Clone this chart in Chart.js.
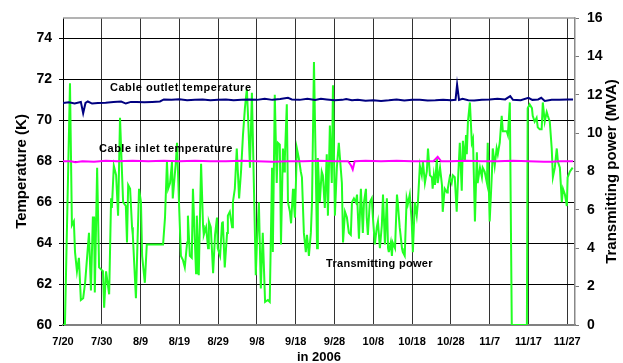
<!DOCTYPE html>
<html>
<head>
<meta charset="utf-8">
<script src="https://cdn.jsdelivr.net/npm/chart.js@4"></script>
<style>
html, body { margin: 0; padding: 0; background: #fff; }
#wrap { width: 623px; height: 363px; }
</style>
</head>
<body>
<div id="wrap"><canvas id="cableChart"></canvas></div>
<script>
// Days counted from 7/20/2006
const dateTicks = ['7/20', '7/30', '8/9', '8/19', '8/29', '9/8', '9/18', '9/28', '10/8', '10/18', '10/28', '11/7', '11/17', '11/27'];

// Cable outlet temperature (K)
const outletDay = [0, 1.5, 3, 4.6, 5.2, 5.8, 6.4, 7.5, 9, 11, 13, 15, 16.2, 17.5, 19, 21, 23, 25, 26, 28,
    30, 32, 34, 36, 38, 40, 42, 44, 46, 48, 50, 52, 54, 56, 58, 59, 61, 63, 65, 66.5,
    68, 70, 72, 73, 74.5, 76, 78, 80, 82, 84, 86, 88, 90, 92, 94, 96, 98, 100, 101.2, 101.6,
    102.1, 103, 104.5, 106, 108, 110, 112, 114, 115.3, 116, 118, 120, 121, 122.5, 123.3, 124.2, 126, 128, 130, 131.5];
const outletK = [70.85, 70.88, 70.82, 70.9, 70.35, 70.85, 70.92, 70.82, 70.85, 70.86, 70.9, 70.92, 70.82, 70.9, 70.9, 70.88, 70.9, 70.92, 71.02, 71.0,
    71.03, 70.98, 71.0, 71.02, 70.98, 71.0, 71.02, 70.98, 71.0, 71.02, 71.0, 71.05, 71.0, 71.04, 71.1, 71.02, 71.0, 71.05, 71.0, 71.05,
    71.02, 70.98, 71.0, 71.04, 70.98, 71.0, 70.96, 70.98, 70.95, 70.98, 71.02, 70.97, 71.0, 71.0, 70.97, 70.98, 71.0, 70.98, 71.0, 71.75,
    71.0, 71.05, 70.98, 70.97, 71.0, 71.02, 71.05, 71.02, 71.18, 71.0, 70.98, 71.1, 71.0, 71.02, 71.1, 70.95, 71.0, 71.0, 71.02, 71.02];

// Cable inlet temperature (K)
const inletDay = [0, 2, 3.2, 5, 8, 11, 14, 18, 22, 26, 30, 34, 38, 42, 46, 50, 54, 58, 62, 66,
    70, 73.5, 74.3, 74.7, 75.2, 78, 82, 86, 90, 95.5, 96.6, 97.5, 100, 104, 108, 112, 116, 120, 124, 126, 128, 131.5];
const inletK = [68.0, 68.0, 67.95, 68.0, 67.98, 68.02, 68.0, 68.02, 68.0, 68.02, 68.0, 68.02, 68.0, 68.0, 68.02, 68.0, 67.98, 68.0, 68.0, 68.02,
    68.0, 68.0, 67.78, 67.6, 68.0, 68.02, 68.0, 68.02, 68.0, 68.0, 68.22, 68.0, 68.0, 68.02, 68.0, 68.0, 68.02, 68.0, 67.98, 67.98, 68.0, 68.0];

// Transmitting power (MVA)
const powerDay = [0, 0.5, 1.8, 2.3, 2.8, 3.1, 3.6, 4.1, 4.6, 5.2,
    5.7, 6.7, 7.2, 7.7, 8.0, 8.2, 8.8, 9.3, 9.8, 10.3,
    10.6, 11.1, 11.3, 11.9, 12.4, 12.6, 13.1, 13.7, 14.2, 14.7,
    15.2, 15.5, 16.2, 16.5, 16.8, 17.3, 17.8, 18.0, 18.8, 19.6,
    20.1, 20.4, 21.1, 21.6, 25.8, 26.3, 26.8, 27.1, 27.6, 28.1,
    28.3, 29.1, 29.4, 29.9, 30.4, 30.9, 31.4, 32.0, 32.2, 32.7,
    33.2, 33.5, 34.3, 34.5, 35.0, 35.6, 36.1, 36.3, 36.9, 37.4,
    37.6, 38.1, 38.7, 39.2, 39.7, 39.9, 40.5, 41.0, 41.2, 41.7,
    42.3, 42.5, 43.0, 43.6, 43.8, 44.3, 44.8, 45.4, 45.9, 46.4,
    46.9, 47.4, 47.7, 48.2, 48.7, 49.2, 49.7, 50.0, 50.5, 51.0,
    51.5, 52.1, 52.8, 53.3, 53.9, 54.1, 54.6, 55.1, 55.4, 55.9,
    56.2, 56.7, 57.0, 57.2, 57.7, 58.0, 58.5, 58.8, 59.3, 59.5,
    59.8, 60.3, 60.8, 61.3, 61.6, 62.1, 62.6, 62.9, 63.4, 63.9,
    64.2, 64.7, 65.2, 65.5, 65.7, 66.2, 66.7, 67.0, 67.5, 68.0,
    68.3, 68.8, 69.3, 69.6, 70.1, 70.6, 71.1, 71.9, 72.2, 72.7,
    73.2, 73.7, 74.2, 74.5, 75.0, 75.5, 75.8, 76.3, 76.8, 77.3,
    77.6, 78.1, 78.3, 78.6, 79.1, 79.6, 79.9, 80.4, 80.9, 81.2,
    81.7, 82.2, 82.5, 83.0, 83.5, 83.8, 84.0, 84.5, 84.8, 85.0,
    85.6, 86.1, 86.3, 86.8, 87.4, 87.6, 88.1, 88.6, 88.9, 89.4,
    89.9, 90.2, 90.7, 91.2, 91.5, 92.0, 92.5, 92.8, 93.3, 93.8,
    94.1, 94.6, 95.1, 95.3, 95.6, 95.9, 96.4, 96.6, 97.2, 97.7,
    97.9, 98.4, 99.0, 99.2, 99.7, 100.2, 100.5, 101.0, 101.5, 101.8,
    102.3, 102.8, 103.1, 103.6, 103.9, 104.1, 104.4, 104.9, 105.4, 105.7,
    106.2, 106.7, 106.9, 107.5, 108.0, 108.2, 108.7, 109.3, 109.5, 110.0,
    110.6, 110.8, 111.3, 111.8, 112.1, 112.6, 113.1, 113.4, 113.9, 114.4,
    114.7, 115.2, 115.7, 119.6, 119.8, 120.3, 120.9, 121.1, 121.6, 122.1,
    122.4, 122.9, 123.4, 123.7, 124.2, 124.7, 125.0, 125.5, 126.0, 126.3,
    126.8, 127.3, 127.6, 128.1, 128.6, 128.9, 129.4, 129.9, 130.1, 130.7,
    131.4];
const powerMVA = [0, 0, 12.6, 5.2, 5.4, 3.8, 2.8, 3.5, 1.3, 1.4,
    2.2, 4.8, 1.8, 5.6, 5.6, 1.7, 8.2, 3.0, 2.9, 2.8,
    0.9, 2.8, 2.8, 1.6, 6.6, 6.1, 8.3, 7.8, 5.7, 10.8,
    8.0, 6.4, 6.2, 4.3, 7.3, 7.1, 5.1, 4.7, 1.4, 7.1,
    6.4, 3.6, 2.2, 4.2, 4.2, 5.6, 8.5, 7.1, 7.4, 8.5,
    6.6, 8.5, 9.5, 6.4, 3.6, 3.4, 3.0, 4.3, 5.7, 3.6,
    3.5, 7.1, 2.7, 5.7, 2.6, 8.4, 5.2, 4.7, 5.1, 4.0,
    5.4, 5.1, 2.7, 4.7, 5.6, 4.0, 3.6, 5.3, 5.4, 3.0,
    4.8, 5.7, 5.9, 5.1, 6.4, 7.1, 9.2, 6.6, 8.0, 9.9,
    11.3, 12.3, 10.9, 8.2, 12.1, 7.4, 2.6, 4.3, 6.4, 1.9,
    4.8, 1.2, 1.3, 1.2, 8.2, 3.8, 12.0, 7.4, 9.5, 9.4,
    4.2, 9.2, 8.0, 8.7, 11.5, 6.4, 5.9, 5.3, 7.1, 6.4,
    5.6, 9.2, 8.7, 8.0, 7.7, 4.8, 3.8, 4.7, 3.6, 4.8,
    6.4, 13.7, 7.8, 4.0, 8.7, 6.4, 8.0, 7.8, 6.1, 8.9,
    5.7, 10.4, 7.4, 12.5, 5.7, 8.2, 9.5, 7.4, 4.3, 5.9,
    5.6, 4.8, 4.7, 6.4, 6.6, 6.4, 6.8, 4.5, 7.1, 4.8,
    6.4, 7.1, 5.6, 4.7, 6.4, 6.6, 5.6, 4.2, 5.1, 5.4,
    4.0, 5.2, 6.8, 4.2, 6.6, 4.0, 3.8, 4.3, 3.6, 4.3,
    4.0, 6.8, 6.4, 5.1, 4.0, 3.8, 3.6, 6.6, 6.3, 6.8,
    5.4, 3.8, 6.4, 5.7, 6.4, 8.3, 7.8, 8.5, 7.4, 8.0,
    9.2, 7.8, 7.7, 7.1, 7.8, 7.3, 8.7, 7.4, 8.2, 7.3,
    5.9, 7.1, 6.9, 7.1, 7.7, 7.4, 7.8, 7.7, 5.9, 7.4,
    9.5, 7.0, 9.6, 8.5, 9.9, 8.9, 10.6, 11.6, 9.5, 9.7,
    5.4, 9.0, 7.4, 8.2, 7.7, 8.2, 8.0, 7.4, 9.5, 5.4,
    8.0, 9.2, 8.3, 9.2, 8.9, 9.5, 10.9, 10.1, 10.1, 10.1,
    9.9, 11.6, 0, 0, 11.3, 11.5, 11.3, 10.9, 10.6, 10.8,
    10.3, 10.2, 10.2, 11.6, 10.6, 11.1, 10.9, 10.6, 9.2, 7.7,
    8.2, 9.2, 8.5, 8.2, 6.4, 7.1, 6.8, 6.2, 7.7, 8.0,
    8.2];

const zip = (xs, ys) => xs.map((x, i) => ({ x: x, y: ys[i] }));
const boldFont = (size, lh) => ({ family: '"Liberation Sans", Arial, sans-serif', weight: 'bold', size: size, lineHeight: lh || 1.2 });

// text drawn inside the plot, top frame line, right axis title (reads bottom-to-top)
const overlayPlugin = {
    id: 'overlay',
    afterDatasetsDraw(chart) {
        const { ctx, chartArea: a, scales } = chart;
        ctx.save();
        ctx.strokeStyle = '#9a9a9a';
        ctx.lineWidth = 1.5;
        ctx.beginPath();
        ctx.moveTo(a.left, a.top);
        ctx.lineTo(a.right, a.top);
        ctx.stroke();

        ctx.fillStyle = '#000';
        ctx.font = 'bold 11px "Liberation Sans", Arial, sans-serif';
        ctx.letterSpacing = '0.5px';
        ctx.textBaseline = 'middle';
        ctx.textAlign = 'left';
        ctx.fillText('Cable outlet temperature', scales.x.getPixelForValue(12.1), scales.y.getPixelForValue(71.58));
        ctx.fillText('Cable inlet temperature', scales.x.getPixelForValue(9.3), scales.y.getPixelForValue(68.6));
        ctx.letterSpacing = '0.3px';
        ctx.fillText('Transmitting power', scales.x.getPixelForValue(67.8), scales.yR.getPixelForValue(3.2));

        ctx.letterSpacing = '0px';
        ctx.translate(612, (a.top + a.bottom) / 2);
        ctx.rotate(-Math.PI / 2);
        ctx.textAlign = 'center';
        ctx.font = 'bold 15px "Liberation Sans", Arial, sans-serif';
        ctx.fillText('Transmitting power (MVA)', 0, 0);
        ctx.restore();
    }
};

new Chart(document.getElementById('cableChart'), {
    type: 'line',
    data: {
        datasets: [
            {
                label: 'Cable outlet temperature',
                data: zip(outletDay, outletK),
                yAxisID: 'y',
                borderColor: '#000080',
                borderWidth: 2,
                pointRadius: 0,
                tension: 0,
                order: 1
            },
            {
                label: 'Cable inlet temperature',
                data: zip(inletDay, inletK),
                yAxisID: 'y',
                borderColor: '#ff00ff',
                borderWidth: 2,
                pointRadius: 0,
                tension: 0,
                order: 1
            },
            {
                label: 'Transmitting power',
                data: zip(powerDay, powerMVA),
                yAxisID: 'yR',
                borderColor: '#22ff22',
                borderWidth: 2,
                pointRadius: 0,
                tension: 0,
                order: 3
            }
        ]
    },
    options: {
        responsive: true,
        maintainAspectRatio: false,
        animation: false,
        layout: { padding: { top: 18, left: 0, right: 0, bottom: 0 } },
        plugins: {
            legend: { display: false },
            tooltip: { enabled: false }
        },
        scales: {
            x: {
                type: 'linear',
                min: 0,
                max: 132,
                afterFit: (s) => { s.height = 38; },
                ticks: {
                    stepSize: 10,
                    includeBounds: false,
                    autoSkip: false,
                    maxRotation: 0,
                    color: '#000',
                    padding: 10,
                    font: boldFont(11),
                    callback: (v) => dateTicks[Math.round(v / 10)]
                },
                grid: { color: '#333', lineWidth: 1, drawTicks: false },
                border: { color: '#808080', width: 2 },
                title: {
                    display: true,
                    text: 'in 2006',
                    color: '#000',
                    font: boldFont(13, 0.8),
                    padding: { top: 0, bottom: 0 }
                }
            },
            y: {
                position: 'left',
                min: 60,
                max: 75,
                afterFit: (s) => { s.width = 63; },
                ticks: {
                    stepSize: 2,
                    includeBounds: false,
                    color: '#000',
                    padding: 7,
                    font: boldFont(14)
                },
                grid: { color: '#000', lineWidth: 1, tickLength: 4 },
                border: { color: '#000', width: 1 },
                title: {
                    display: true,
                    text: 'Temperature (K)',
                    color: '#000',
                    font: boldFont(15),
                    padding: { top: 13, bottom: 0 }
                }
            },
            yR: {
                position: 'right',
                min: 0,
                max: 16,
                afterFit: (s) => { s.width = 48; },
                ticks: {
                    stepSize: 2,
                    color: '#000',
                    padding: 8,
                    font: boldFont(14)
                },
                grid: { drawOnChartArea: false, color: '#777', tickLength: 4 },
                border: { color: '#888', width: 1.5 }
            }
        }
    },
    plugins: [overlayPlugin]
});
</script>
</body>
</html>
